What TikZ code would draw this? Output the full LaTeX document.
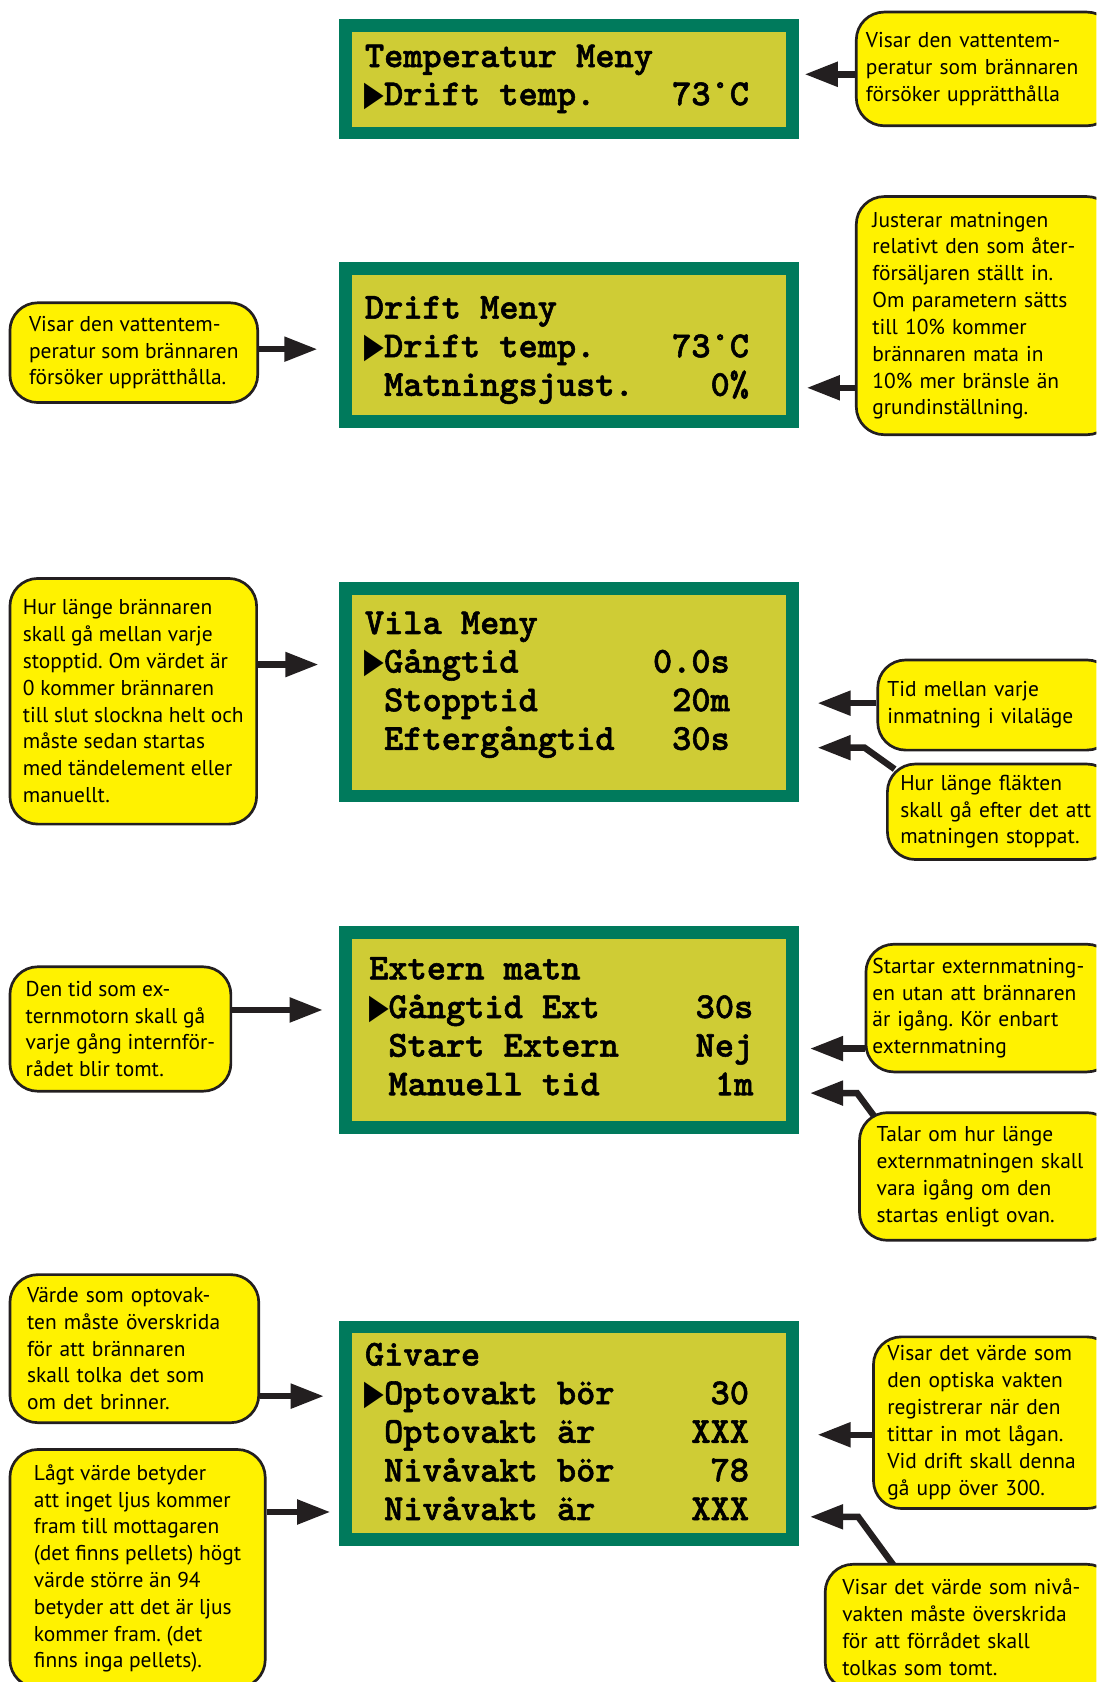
\documentclass[tikz,border=0pt]{standalone}
\usepackage{fontspec}
\usepackage{graphicx}
\setmainfont{PT Sans}
\newfontfamily\lcdfont{lmmonolt10-bold.otf}[FakeBold=1.5]
\newfontfamily\symfont{DejaVu Sans}
\usetikzlibrary{arrows.meta}
\usetikzlibrary{backgrounds}
\frenchspacing
\definecolor{lcdgreen}{RGB}{0,122,92}
\definecolor{lcdolive}{RGB}{207,204,53}
\definecolor{noteyellow}{RGB}{255,242,0}
\definecolor{inkblack}{RGB}{35,31,32}
\tikzset{note/.style={draw=inkblack, line width=2.5pt, fill=noteyellow, rounded corners=26pt,
  align=left, font={\fontsize{20pt}{25pt}\selectfont}}}
\tikzset{pointer/.style={draw=inkblack, line width=6pt, -{Triangle[length=31pt, width=22pt]}, shorten >=10pt}}
\newcommand{\cur}{\makebox[0.525em][l]{\scalebox{0.7}[0.95]{\symfont ▶}}}

\begin{document}
\begin{tikzpicture}[x=1pt, y=-1pt]
\tikzset{
  lcd/.style={draw=lcdgreen, line width=12pt, fill=lcdolive, minimum width=417pt},
  row/.style={anchor=base west, inner sep=0pt, text height=21pt, text depth=6pt,
    font={\lcdfont\fontsize{34.1pt}{36pt}\selectfont}},
  lnote/.style={note, anchor=north west},
  rnote/.style={note, anchor=north west},
}

\useasboundingbox (0,0) rectangle (1022,1568);
\clip (0,0) rectangle (1022,1568);

\node[lcd, minimum height=100pt] (lcda) at (530.5, 74) {};
\node[row] (a1) at (340, 62.5) {Temperatur Meny};
\node[row] (a2) at (340, 98) {\cur Drift temp.~~~~73°C};

\node[lcd, minimum height=143pt] (lcdb) at (530.5, 321.5) {};
\node[row] (b1) at (340, 297) {Drift Meny};
\node[row] (b2) at (340, 333) {\cur Drift temp.~~~~73°C};
\node[row] (b3) at (340, 369) {~Matningsjust.~~~~0\%};

\node[lcd, minimum height=193pt] (lcdc) at (530.5, 645.5) {};
\node[row] (c1) at (340, 591) {Vila Meny};
\node[row] (c2) at (340, 627) {\cur Gångtid~~~~~~~0.0s};
\node[row] (c3) at (340, 663) {~Stopptid~~~~~~~20m};
\node[row] (c4) at (340, 699) {~Eftergångtid~~~30s};

\node[lcd, minimum height=182pt] (lcdd) at (530.5, 960) {};
\node[row] (d1) at (344, 913) {Extern matn};
\node[row] (d2) at (344, 949) {\cur Gångtid Ext~~~~~30s};
\node[row] (d3) at (344, 985) {~Start Extern~~~~Nej};
\node[row] (d4) at (344, 1021) {~Manuell tid~~~~~~1m};

\node[lcd, minimum height=198pt] (lcde) at (530.5, 1336) {};
\node[row] (e1) at (340, 1273) {Givare};
\node[row] (e2) at (340, 1309) {\cur Optovakt bör~~~~~30};
\node[row] (e3) at (340, 1345) {~Optovakt är~~~~~XXX};
\node[row] (e4) at (340, 1381) {~Nivåvakt bör~~~~~78};
\node[row] (e5) at (340, 1417) {~Nivåvakt är~~~~~XXX};

\node[rnote, text width=223pt, inner xsep=9pt, minimum height=106pt] (r1) at (797, 10)
  {Visar den vattentem-\\peratur som brännaren\\försöker upprätthålla};
\node[lnote, minimum width=231pt, minimum height=93pt] (l2) at (8, 281)
  {Visar den vattentem-\\peratur som brännaren\\försöker upprätthålla.};
\node[rnote, text width=211pt, inner xsep=15pt, minimum height=222pt] (r2) at (797, 182)
  {Justerar matningen\\relativt den som åter-\\försäljaren ställt in.\\Om parametern sätts\\till 10\% kommer\\brännaren mata in\\10\% mer bränsle än\\grundinställning.};
\node[lnote, minimum width=230pt, minimum height=229pt] (l3) at (8, 538)
  {Hur länge brännaren\\skall gå mellan varje\\stopptid. Om värdet är\\0 kommer brännaren\\till slut slockna helt och\\måste sedan startas\\med tändelement eller\\manuellt.};
\node[rnote, text width=203pt, inner xsep=9pt, minimum height=84pt] (r3a) at (817, 614)
  {Tid mellan varje\\inmatning i vilaläge};
\node[rnote, text width=188pt, inner xsep=12pt, minimum height=89pt] (r3b) at (826, 711)
  {Hur länge fläkten\\skall gå efter det att\\matningen stoppat.};
\node[lnote, minimum width=206pt, minimum height=116pt] (l4) at (8, 900)
  {Den tid som ex-\\ternmotorn skall gå\\varje gång internför-\\rådet blir tomt.};
\node[rnote, text width=220pt, inner xsep=6pt, minimum height=119pt] (r4a) at (806, 879)
  {Startar externmatning-\\en utan att brännaren\\är igång. Kör enbart\\externmatning};
\node[rnote, text width=206pt, inner xsep=16pt, minimum height=119pt] (r4b) at (800, 1036)
  {Talar om hur länge\\externmatningen skall\\vara igång om den\\startas enligt ovan.};
\node[lnote, text width=200pt, inner xsep=16pt, minimum height=138pt] (l5a) at (8, 1187)
  {Värde som optovak-\\ten måste överskrida\\för att brännaren\\skall tolka det som\\om det brinner.};
\node[lnote, minimum width=238pt, minimum height=222pt] (l5b) at (8, 1350)
  {Lågt värde betyder\\att inget ljus kommer\\fram till mottagaren\\(det finns pellets) högt\\värde större än 94\\betyder att det är ljus\\kommer fram. (det\\finns inga pellets).};
\node[rnote, text width=199pt, inner xsep=13pt, minimum height=160pt] (r5a) at (813, 1245)
  {Visar det värde som\\den optiska vakten\\registrerar när den\\tittar in mot lågan.\\Vid drift skall denna\\gå upp över 300.};
\node[rnote, text width=238pt, inner xsep=16pt, minimum height=117pt] (r5b) at (768, 1457)
  {Visar det värde som nivå-\\vakten måste överskrida\\för att förrådet skall\\tolkas som tomt.};

\begin{scope}[on background layer]
\draw[pointer, shorten >=5pt, transform canvas={yshift=-5pt}] (r1.west) -- (r1.west -| lcda.east);
\draw[pointer, shorten >=20pt] (l2.east |- b2) -- (b2 -| lcdb.west);
\draw[pointer, shorten >=7pt] (r2.west |- b3) -- (b3 -| lcdb.east);
\draw[pointer, shorten >=19pt] (l3.east |- c2) -- (c2 -| lcdc.west);
\draw[pointer, shorten >=17pt] (r3a.west |- c3) -- (c3 -| lcdc.east);
\draw[pointer, shorten >=17pt] ([shift={(8,6)}]r3b.north west) -- ++(-28,-20) coordinate (k3) -- (k3 -| lcdc.east);
\draw[pointer, shorten >=15pt] (l4.east |- d2) -- (d2 -| lcdd.west);
\draw[pointer] (r4a.west |- d3) -- (d3 -| lcdd.east);
\draw[pointer] ([shift={(16,6)}]r4b.north west) -- ++(-17,-23) coordinate (k4) -- (k4 -| lcdd.east);
\draw[pointer, shorten >=14pt] (l5a.east |- e2) -- (e2 -| lcde.west);
\draw[pointer, shorten >=8pt] (l5b.east |- e5) -- (e5 -| lcde.west);
\draw[pointer, shorten >=17pt] (r5a.west |- e3) -- (e3 -| lcde.east);
\draw[pointer] ([shift={(70,9)}]r5b.north west) -- ++(-38,-52) coordinate (k5) -- (k5 -| lcde.east);
\end{scope}
\end{tikzpicture}
\end{document}
